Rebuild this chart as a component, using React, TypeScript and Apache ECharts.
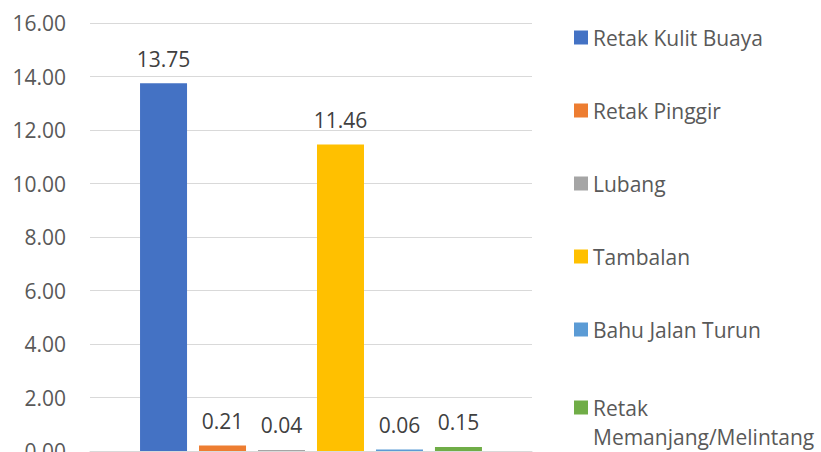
import React, { useEffect, useRef } from "react";
import * as echarts from "echarts";

const categories = ["Kerusakan"];
const seriesNames = [
  "Retak Kulit Buaya",
  "Retak Pinggir",
  "Lubang",
  "Tambalan",
  "Bahu Jalan Turun",
  "Retak Memanjang/Melintang",
];
const seriesValues = [13.75, 0.21, 0.04, 11.46, 0.06, 0.15];
const seriesColors = ["#4472C4", "#ED7D31", "#A5A5A5", "#FFC000", "#5B9BD5", "#70AD47"];
const yMin = 0;
const yMax = 16;
const yInterval = 2;

const FONT = "'Open Sans', sans-serif";

export default function App() {
  const ref = useRef<HTMLDivElement>(null);
  useEffect(() => {
    if (!ref.current) return;
    const chart = echarts.init(ref.current, null, { renderer: "svg" });
    const series = seriesNames.map((name, i) => ({
      name,
      type: "bar",
      data: [seriesValues[i]],
      barWidth: 47,
      barGap: "25.5%",
      itemStyle: { color: seriesColors[i] },
      label: {
        show: true,
        position: "top",
        distance: 14,
        color: "#404040",
        fontFamily: FONT,
        fontSize: 21,
        formatter: (p: any) => Number(p.value).toFixed(2),
      },
    }));
    chart.setOption({
      animation: false,
      backgroundColor: "#ffffff",
      grid: {
        left: 90,
        right: 289,
        top: 23,
        bottom: 1,
        containLabel: false,
        outerBoundsMode: "none",
      },
      xAxis: {
        type: "category",
        data: categories,
        axisLine: { show: true, lineStyle: { color: "#d9d9d9", width: 1 } },
        axisTick: { show: false },
        axisLabel: { show: false },
      },
      yAxis: {
        type: "value",
        min: yMin,
        max: yMax,
        interval: yInterval,
        axisLine: { show: false },
        axisTick: { show: false },
        splitLine: { lineStyle: { color: "#d9d9d9", width: 1 } },
        axisLabel: {
          color: "#595959",
          fontFamily: FONT,
          fontSize: 21,
          margin: 24,
          formatter: (v: number) => v.toFixed(2),
        },
      },
      legend: [
        {
          orient: "vertical",
          left: 569,
          top: 22,
          itemWidth: 14,
          itemHeight: 14,
          itemGap: 52,
          icon: "rect",
          data: seriesNames.slice(0, 5),
          textStyle: { color: "#595959", fontFamily: FONT, fontSize: 21 },
          selectedMode: false,
        },
        {
          orient: "vertical",
          left: 569,
          top: 359,
          itemWidth: 14,
          itemHeight: 14,
          icon: "rect",
          data: seriesNames.slice(5),
          formatter: () => " \nRetak\nMemanjang/Melintang",
          textStyle: {
            color: "#595959",
            fontFamily: FONT,
            fontSize: 21,
            lineHeight: 29,
          },
          selectedMode: false,
        },
      ],
      series,
    });
    return () => chart.dispose();
  }, []);
  return (
    <div
      ref={ref}
      style={{ position: "fixed", left: 0, top: 0, width: 821, height: 452 }}
    />
  );
}
